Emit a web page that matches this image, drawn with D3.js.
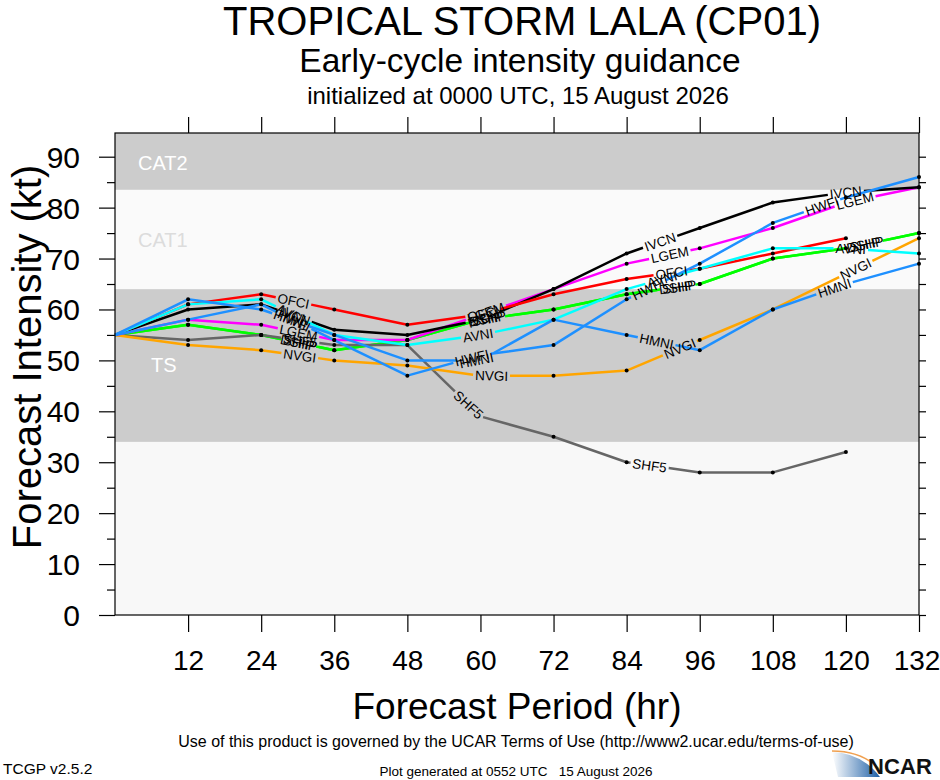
<!DOCTYPE html>
<html><head><meta charset="utf-8">
<script src="https://cdn.jsdelivr.net/npm/d3@7"></script>
<style>
body{margin:0;background:#fff}
svg{display:block}
text{font-family:"Liberation Sans",Arial,Helvetica,sans-serif}
</style></head>
<body><svg id="c" width="940" height="780"></svg>
<script>
// ---------- data ----------
const hours = [0,12,24,36,48,60,72,84,96,108,120,132];
const xTicks = [12,24,36,48,60,72,84,96,108,120,132];
const yTicks = [0,10,20,30,40,50,60,70,80,90];
const seriesNames = ["SHIP","DSHP","SHF5","NVGI","LGEM","IVCN","OFCI","AVNI","HWFI","HMNI"];
const SHIP = [55,57,55,52,54,58,60,63,65,70,72,75];
const DSHP = [55,57,55,52,54,58,60,63,65,70,72,75];
const SHF5 = [55,54,55,53,53,39,35,30,28,28,32];
const NVGI = [55,53,52,50,49,47,47,48,54,60,67,74];
const LGEM = [55,58,57,54,54,59,64,69,72,76,81,84];
const IVCN = [55,60,61,56,55,58,64,71,76,81,83,84];
const OFCI = [55,61,63,60,57,59,63,66,68,71,74];
const AVNI = [55,61,62,55,53,55,58,64,68,72,72,71];
const HWFI = [55,58,61,54,47,51,53,62,69,77,82,86];
const HMNI = [55,62,60,55,50,50,58,55,52,60,65,69];
const seriesValues = [SHIP,DSHP,SHF5,NVGI,LGEM,IVCN,OFCI,AVNI,HWFI,HMNI];
const bandEdges = [0,34,64,83.5];
const bandNames = ["","TS","CAT1","CAT2"];

// ---------- styles ----------
const colors = {SHIP:"#00ff00",DSHP:"#00ff00",SHF5:"#666666",NVGI:"#ffa500",LGEM:"#ff00ff",
  IVCN:"#000000",OFCI:"#ff0000",AVNI:"#00ffff",HWFI:"#1e90ff",HMNI:"#1e90ff"};
const bandFills = ["#f8f8f8","#cccccc","#fafafa","#cccccc"];
const bandTextFill = ["#fff","#ffffff","#dcdcdc","#ffffff"];

const svg = d3.select("#c");
const L=115,R=919,B=615,T=133;
const x = d3.scaleLinear().domain([0,132]).range([L,R]);
const y = d3.scaleLinear().domain([0,90]).range([B,156.7]);
const yTop = y.invert(T);

// bands
const edges = bandEdges.concat([yTop]);
bandFills.forEach((f,i)=>{
  svg.append("rect").attr("x",L).attr("width",R-L)
    .attr("y",y(edges[i+1])).attr("height",y(edges[i])-y(edges[i+1])).attr("fill",f);
});
const bandLabelY = [null, 372, 247, 170];
bandNames.forEach((n,i)=>{ if(!n) return;
  svg.append("text").attr("x",i===1?151:138).attr("y",bandLabelY[i]).attr("font-size",20)
    .attr("fill",bandTextFill[i]).text(n);
});

// axes
const gL = svg.append("g").attr("transform",`translate(${L},0)`)
  .call(d3.axisLeft(y).tickValues(yTicks).tickSize(16).tickPadding(19));
gL.selectAll("text").attr("font-size",30).attr("fill","#000").attr("dy","0.35em");
svg.append("g").attr("transform",`translate(${L},0)`)
  .call(d3.axisLeft(y).tickValues(d3.range(5,95,10)).tickSize(8).tickFormat(""));
svg.append("g").attr("transform",`translate(${R},0)`)
  .call(d3.axisRight(y).tickValues(d3.range(0,95,5)).tickSize(7).tickFormat(""));
const gB = svg.append("g").attr("transform",`translate(0,${B})`)
  .call(d3.axisBottom(x).tickValues(xTicks).tickSize(17).tickPadding(38));
gB.selectAll("text").attr("font-size",28).attr("fill","#000").attr("dy","0")
  .attr("dx",d=>d===132?-2.5:0);
svg.append("g").attr("transform",`translate(0,${T})`)
  .call(d3.axisTop(x).tickValues(xTicks).tickSize(16).tickFormat(""));
svg.selectAll(".domain").remove();
svg.selectAll(".tick line").attr("stroke","#000").attr("stroke-width",1.2);

// series
const lineGen = d3.line().x(d=>x(d[0])).y(d=>y(d[1]));
const FIRST = 186, STEP = 193;
const lineLayer = svg.append("g"), dotLayer = svg.append("g"), labLayer = svg.append("g");
seriesNames.forEach((name,si)=>{
  const vals = seriesValues[si];
  const data = vals.map((v,i)=>[hours[i],v]);
  const pts = data.map(d=>[x(d[0]),y(d[1])]);
  const cum=[0];
  for(let i=1;i<pts.length;i++) cum.push(cum[i-1]+Math.hypot(pts[i][0]-pts[i-1][0],pts[i][1]-pts[i-1][1]));
  const total = cum[cum.length-1];
  const at = s=>{ let i=1; while(i<pts.length-1 && cum[i]<s) i++;
    const t=(s-cum[i-1])/(cum[i]-cum[i-1]);
    return [pts[i-1][0]+t*(pts[i][0]-pts[i-1][0]), pts[i-1][1]+t*(pts[i][1]-pts[i-1][1])]; };
  const tmp = labLayer.append("text").attr("font-size",13.5).text(name);
  const w = tmp.node().getComputedTextLength(); tmp.remove();
  const hw = w/2+2;
  const gaps=[];
  for(let s=FIRST; s+hw<=total; s+=STEP) gaps.push(s);
  const dash=[]; let pos=0;
  gaps.forEach(s=>{ dash.push(s-hw-pos, 2*hw); pos=s+hw; });
  dash.push(total-pos+10, 0);
  lineLayer.append("path").attr("d",lineGen(data)).attr("fill","none")
    .attr("stroke",colors[name]).attr("stroke-width",2.5).attr("stroke-linejoin","round")
    .attr("stroke-dasharray",dash.join(","));
  data.forEach((d,i)=>{
    if(i===0) return;
    if(gaps.some(s=>Math.abs(cum[i]-s)<hw)) return;
    dotLayer.append("circle").attr("cx",x(d[0])).attr("cy",y(d[1])).attr("r",2).attr("fill","#000");
  });
  gaps.forEach(s=>{
    const c=at(s), a=at(s-hw), b=at(s+hw);
    const ang=Math.atan2(b[1]-a[1],b[0]-a[0])*180/Math.PI;
    labLayer.append("text").attr("transform",`translate(${c[0]},${c[1]}) rotate(${ang})`)
      .attr("text-anchor","middle").attr("dy","0.36em").attr("font-size",13.5).attr("fill","#000").text(name);
  });
});

// frame
svg.append("rect").attr("x",L).attr("y",T).attr("width",R-L).attr("height",B-T)
  .attr("fill","none").attr("stroke","#000").attr("stroke-width",1.2);

// titles
svg.append("text").attr("x",522).attr("y",35).attr("text-anchor","middle").attr("font-size",40).text("TROPICAL STORM LALA (CP01)");
svg.append("text").attr("x",520).attr("y",72).attr("text-anchor","middle").attr("font-size",33.5).text("Early-cycle intensity guidance");
svg.append("text").attr("x",518).attr("y",104).attr("text-anchor","middle").attr("font-size",24).text("initialized at 0000 UTC, 15 August 2026");
svg.append("text").attr("x",517).attr("y",719).attr("text-anchor","middle").attr("font-size",37).text("Forecast Period (hr)");
svg.append("text").attr("transform","translate(41,357) rotate(-90)").attr("text-anchor","middle").attr("font-size",40).text("Forecast Intensity (kt)");
svg.append("text").attr("x",516).attr("y",747).attr("text-anchor","middle").attr("font-size",16).text("Use of this product is governed by the UCAR Terms of Use (http://www2.ucar.edu/terms-of-use)");
svg.append("text").attr("x",3).attr("y",774).attr("font-size",15.5).text("TCGP v2.5.2");
svg.append("text").attr("x",516).attr("y",776).attr("text-anchor","middle").attr("font-size",13.5).attr("xml:space","preserve").text("Plot generated at 0552 UTC   15 August 2026");

// NCAR logo
const defs = svg.append("defs");
const gr = defs.append("linearGradient").attr("id","ng").attr("x1","0").attr("x2","1").attr("y1","0").attr("y2","0");
gr.append("stop").attr("offset","0").attr("stop-color","#ffffff");
gr.append("stop").attr("offset","1").attr("stop-color","#1d5fa6");
svg.append("path").attr("d","M832,752 Q862,753 880,777 L838,777 Z").attr("fill","url(#ng)");
svg.append("path").attr("d","M832,751 Q864,751 882,772").attr("fill","none").attr("stroke","#f0a050").attr("stroke-width",1.5);
svg.append("text").attr("x",868).attr("y",774).attr("font-size",22).attr("font-weight","bold").attr("fill","#111").attr("textLength",64).text("NCAR");
</script></body></html>
